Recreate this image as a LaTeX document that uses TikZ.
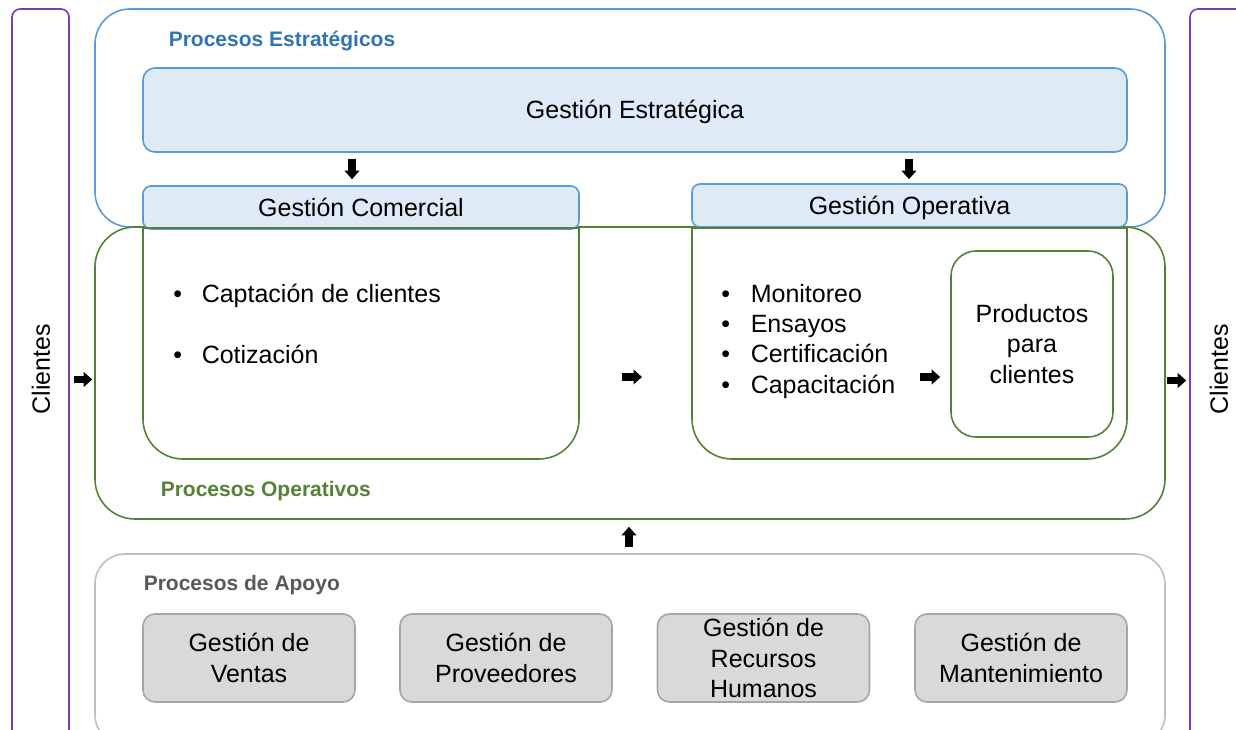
\documentclass[tikz,border=0pt]{standalone}
\usepackage{fontspec}
\setmainfont{Liberation Sans}
\usetikzlibrary{arrows.meta}
\definecolor{pblue}{RGB}{91,155,213}
\definecolor{lblue}{RGB}{222,235,247}
\definecolor{tblue}{RGB}{46,117,182}
\definecolor{pgreen}{RGB}{84,130,53}
\definecolor{ppurple}{RGB}{128,60,175}
\definecolor{sgray}{RGB}{191,191,191}
\definecolor{fgray}{RGB}{217,217,217}
\definecolor{bgray}{RGB}{166,166,166}
\definecolor{tgray}{RGB}{89,89,89}
\begin{document}
\begin{tikzpicture}[x=1pt,y=-1pt,line width=1.6pt,
  big/.style={font=\fontsize{25}{30.5}\selectfont},
  lab/.style={font=\fontsize{21}{24}\selectfont\bfseries,anchor=base west,inner sep=0pt},
  item/.style={big,anchor=base west,inner sep=0pt},
  rbox/.style={rectangle,inner sep=0pt,align=center,big},
  purplebox/.style={rbox,draw=ppurple,rounded corners=8pt},
  bluebox/.style={rbox,draw=pblue,fill=lblue,rounded corners=#1,text height=18pt,text depth=0pt},
  greenline/.style={draw=pgreen},
  graybox/.style={rbox,draw=bgray,fill=fgray,rounded corners=12pt},
  blockarr/.style={draw=black,line width=7.5pt,-{Triangle[length=8.5pt,width=14.5pt]}}]
\useasboundingbox (0,0) rectangle (1236,730);
% clients
\node[purplebox,minimum width=57pt,minimum height=736pt] (CL) at (40.5,377) {};
\node[purplebox,minimum width=62pt,minimum height=736pt] (CR) at (1221,377) {};
\node[big,rotate=90] (CLt) at (41,369) {Clientes};
\node[big,rotate=90] (CRt) at (1219,369) {Clientes};
% big containers
\node[rbox,draw=pblue,rounded corners=35pt,minimum width=1070pt,minimum height=218pt] (ST) at (630,118) {};
\node[rbox,draw=pgreen,rounded corners=40pt,minimum width=1070pt,minimum height=292pt] (OP) at (630,373) {};
\node[rbox,draw=sgray,rounded corners=30pt,minimum width=1070pt,minimum height=191pt] (SP) at (630,649.5) {};
% strategic
\node[bluebox=12pt,minimum width=984pt,minimum height=84pt] (GE) at (635,110) {Gestión Estratégica};
\node[bluebox=8pt,minimum width=436pt,minimum height=43pt] (GCh) at (361,207.5) {Gestión Comercial};
\node[bluebox=8pt,minimum width=435pt,minimum height=43pt] (GOh) at (909.5,205.5) {Gestión Operativa};
% bodies
\draw[greenline,rounded corners=40pt] (143,228) -- (143,459) -- (579,459) -- (579,228);
\draw[greenline] (143,228) -- (579,228);
\draw[greenline,rounded corners=40pt] (692,228) -- (692,459) -- (1127,459) -- (1127,228);
\draw[greenline] (692,228) -- (1127,228);
\coordinate (gcR) at (579,377);
\coordinate (goL) at (692,377);
\node[rbox,draw=pgreen,rounded corners=25pt,minimum width=162pt,minimum height=186pt] (PR) at (1032,344) {Productos\\para\\clientes};
% labels
\node[lab,text=tblue] (LS) at (168,46.5) {Procesos Estratégicos};
\node[lab,text=pgreen] (LO) at (160,496.5) {Procesos Operativos};
\node[lab,text=tgray] (LA) at (143,590.5) {Procesos de Apoyo};
% items
\node[item] (i1) at (172.6,302) {\makebox[28.4pt][l]{•}Captación de clientes};
\node[item] (i2) at (172.6,363) {\makebox[28.4pt][l]{•}Cotización};
\node[item] (i3) at (720.6,302) {\makebox[29.4pt][l]{•}Monitoreo};
\node[item] (i4) at (720.6,332) {\makebox[29.4pt][l]{•}Ensayos};
\node[item] (i5) at (720.6,362.5) {\makebox[29.4pt][l]{•}Certificación};
\node[item] (i6) at (720.6,393) {\makebox[29.4pt][l]{•}Capacitación};
% support boxes
\node[graybox,minimum width=212pt,minimum height=88pt] (S1) at (249,658) {Gestión de\\Ventas};
\node[graybox,minimum width=212pt,minimum height=88pt] (S2) at (506,658) {Gestión de\\Proveedores};
\node[graybox,minimum width=212pt,minimum height=88pt] (S3) at (763.5,658) {Gestión de\\Recursos\\Humanos};
\node[graybox,minimum width=212pt,minimum height=88pt] (S4) at (1021,658) {Gestión de\\Mantenimiento};
% arrows
\coordinate (x1) at (352,0);
\coordinate (x2) at (909,0);
\coordinate (x3) at (629,0);
\coordinate (y1) at (0,379.5);
\coordinate (y2) at (0,377);
\coordinate (y3) at (0,380.5);
\draw[blockarr] ([yshift=-6pt]GE.south -| x1) -- ([yshift=6pt]GCh.north -| x1);
\draw[blockarr] ([yshift=-6pt]GE.south -| x2) -- ([yshift=4pt]GOh.north -| x2);
\draw[blockarr] ([xshift=4pt]CL.east |- y1) -- ([xshift=-2pt]OP.west |- y1);
\draw[blockarr] ([xshift=43pt]gcR) -- ([xshift=-50pt]goL);
\draw[blockarr] ([xshift=-30pt]PR.west |- y2) -- ([xshift=-10pt]PR.west |- y2);
\draw[blockarr] ([xshift=1.5pt]OP.east |- y3) -- ([xshift=-3pt]CR.west |- y3);
\draw[blockarr] ([yshift=6pt]SP.north -| x3) -- ([yshift=-7pt]OP.south -| x3);
\end{tikzpicture}
\end{document}
